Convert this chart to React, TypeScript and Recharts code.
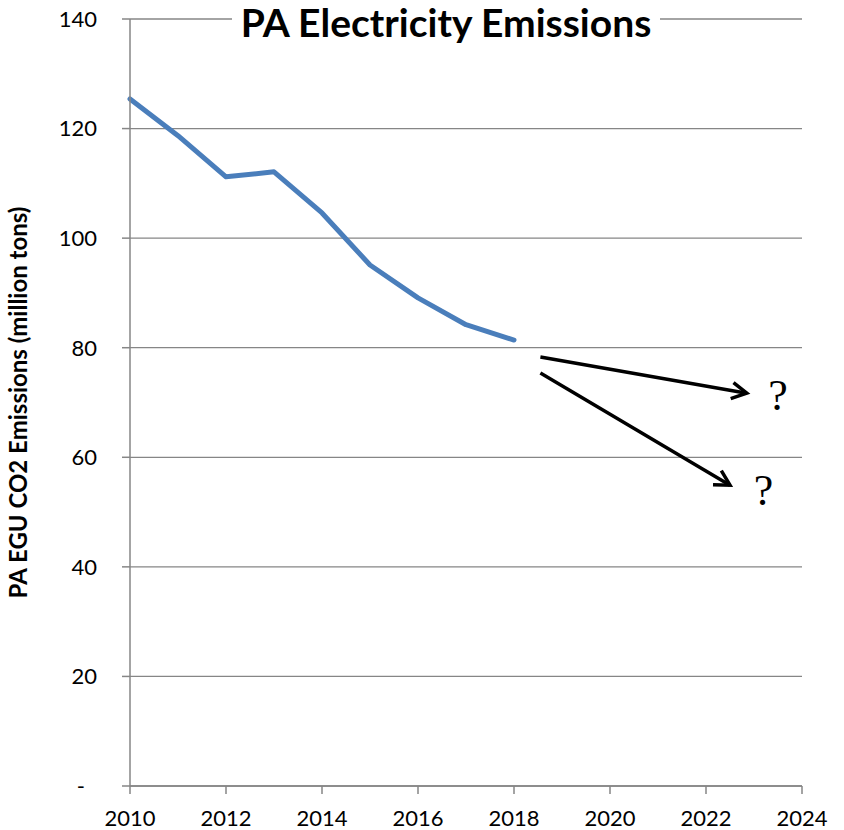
import { LineChart, Line, XAxis, YAxis, CartesianGrid, ReferenceLine, ReferenceDot } from 'recharts';

const years = [2010, 2011, 2012, 2013, 2014, 2015, 2016, 2017, 2018];
const emissions = [125.4, 118.7, 111.2, 112.1, 104.6, 95.1, 89.1, 84.2, 81.4];
const xTicks = [2010, 2012, 2014, 2016, 2018, 2020, 2022, 2024];
const yTicks = [0, 20, 40, 60, 80, 100, 120, 140];

// the two "what next?" arrows, as [x1, y1, x2, y2] in data units
const arrowUpper = [2018.55, 78.3, 2022.85, 71.7];
const arrowLower = [2018.55, 75.4, 2022.5, 54.9];
const questionMarks = [
  { x: 2023.5, y: 71.3 },
  { x: 2023.2, y: 53.9 },
];

const data = years.map((year, i) => ({ year, value: emissions[i] }));

const font = 'Lato, "Open Sans", sans-serif';
const axisGray = '#868686';

function Arrow(props: any) {
  const { x1, y1, x2, y2 } = props;
  const ang = Math.atan2(y2 - y1, x2 - x1);
  const len = 17;
  const spread = 0.5;
  const ax = x2 - len * Math.cos(ang - spread);
  const ay = y2 - len * Math.sin(ang - spread);
  const bx = x2 - len * Math.cos(ang + spread);
  const by = y2 - len * Math.sin(ang + spread);
  return (
    <g>
      <line x1={x1} y1={y1} x2={x2} y2={y2} stroke="#000" strokeWidth={3.5} />
      <polyline points={`${ax},${ay} ${x2},${y2} ${bx},${by}`} fill="none" stroke="#000" strokeWidth={3.5} />
    </g>
  );
}

function Question(props: any) {
  return (
    <text x={props.cx} y={props.cy} textAnchor="middle" dominantBaseline="central" fontFamily='"Liberation Serif", "DejaVu Serif", serif' fontSize={44} fill="#000">
      ?
    </text>
  );
}

function YTick(props: any) {
  const { x, y, payload } = props;
  const zero = payload.value === 0;
  return (
    <text x={zero ? x - 12 : x} y={y} dy="0.355em" textAnchor="end" fill="#000" fontSize={22} fontFamily={font}>
      {zero ? '-' : payload.value}
    </text>
  );
}

export default function App() {
  return (
    <div style={{ position: 'absolute', left: 0, top: 0, width: 844, height: 830, background: '#fff' }}>
      <LineChart width={844} height={830} data={data} margin={{ top: 19, right: 42, left: 0, bottom: 0 }}>
        <CartesianGrid vertical={false} stroke={axisGray} strokeWidth={1.3} />
        <XAxis
          dataKey="year"
          type="number"
          domain={[2010, 2024]}
          ticks={xTicks}
          height={44}
          stroke={axisGray}
          strokeWidth={1.5}
          tickSize={8}
          tick={{ fill: '#000', fontSize: 22, fontFamily: font }}
          tickMargin={16}
        />
        <YAxis
          domain={[0, 140]}
          ticks={yTicks}
          width={130}
          stroke={axisGray}
          strokeWidth={1.5}
          tickSize={8}
          tickMargin={25}
          tick={YTick}
          label={{
            value: 'PA EGU CO2 Emissions (million tons)',
            angle: -90,
            position: 'insideLeft',
            offset: 18,
            style: { textAnchor: 'middle', fontWeight: 700, fontSize: 24, fontFamily: font, fill: '#000' },
          }}
        />
        <Line
          dataKey="value"
          stroke="#4a7ebb"
          strokeWidth={5}
          dot={false}
          strokeLinecap="round"
          strokeLinejoin="round"
          isAnimationActive={false}
        />
        <ReferenceLine
          segment={[
            { x: arrowUpper[0], y: arrowUpper[1] },
            { x: arrowUpper[2], y: arrowUpper[3] },
          ]}
          shape={Arrow}
        />
        <ReferenceLine
          segment={[
            { x: arrowLower[0], y: arrowLower[1] },
            { x: arrowLower[2], y: arrowLower[3] },
          ]}
          shape={Arrow}
        />
        {questionMarks.map((q, i) => (
          <ReferenceDot key={i} x={q.x} y={q.y} r={0} shape={Question} />
        ))}
      </LineChart>
      <div
        style={{
          position: 'absolute',
          left: 232,
          top: 2,
          width: 428,
          height: 40,
          background: '#fff',
          textAlign: 'center',
          fontFamily: font,
          fontWeight: 700,
          fontSize: 39,
          lineHeight: '40px',
          color: '#000',
          whiteSpace: 'nowrap',
        }}
      >
        PA Electricity Emissions
      </div>
    </div>
  );
}
